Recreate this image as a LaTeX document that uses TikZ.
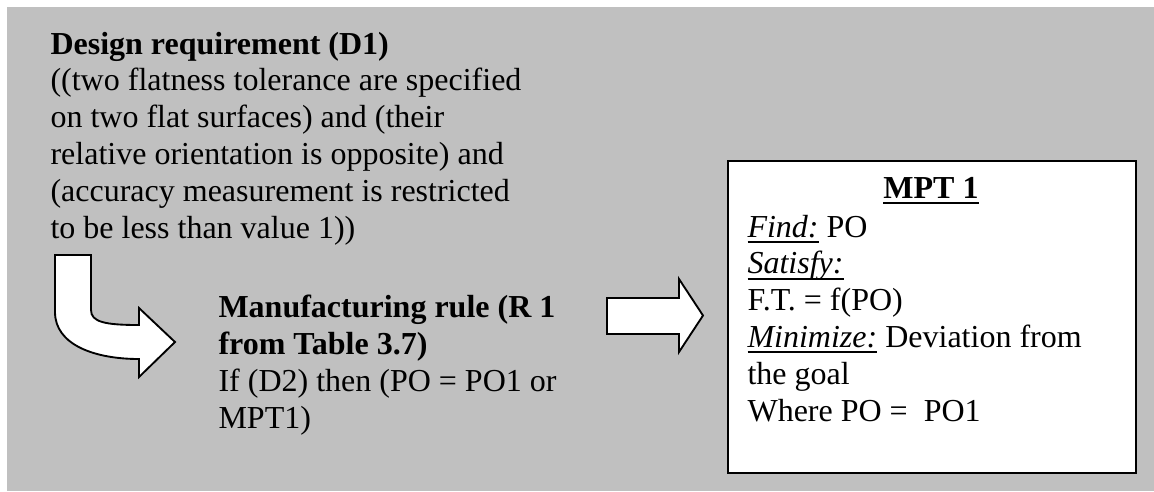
\documentclass[tikz,border=0pt]{standalone}
\usepackage{fontspec}
\setmainfont{Liberation Serif}
\usetikzlibrary{positioning}
\definecolor{panelgray}{HTML}{C0C0C0}
\newcommand{\mpul}[1]{\setbox0\hbox{#1}\rlap{\rule[-2.2pt]{\wd0}{0.7pt}}\box0\relax}

\begin{document}
\begin{tikzpicture}[
  x=0.375pt, y=-0.375pt,
  txt/.style={anchor=base west, align=left, inner sep=0pt,
              font=\fontsize{12}{13.8}\selectfont},
  mptbox/.style={rectangle, draw=black, fill=white, line width=0.8pt,
              anchor=north west, minimum width=153pt, minimum height=117pt},
  bigarr/.style={draw=black, fill=white, line width=0.7pt, line join=miter}
]
\useasboundingbox (0,0) rectangle (1154,491);
%% background panel
\fill[panelgray] (7,7) rectangle (1154,491);
%% design requirement (placed by its last baseline)
\node[txt] (dreq) at (50,238) {\textbf{Design requirement (D1)}\\
  ((two flatness tolerance are specified\\
  on two flat surfaces) and (their\\
  relative orientation is opposite) and\\
  (accuracy measurement is restricted\\
  to be less than value 1))};
%% manufacturing rule
\node[txt] (mrule) at (218,428) {\textbf{Manufacturing rule (R 1}\\
  \textbf{from Table 3.7)}\\
  If (D2) then (PO = PO1 or\\
  MPT1)};
%% MPT 1 box
\node[mptbox] (mpt) at (727,160) {};
\node[txt, anchor=base] (mpttitle) at (931,198) {\mpul{\textbf{MPT 1}}};
\node[txt] (mptbody) at (747,421) {\mpul{\textit{Find:}} PO\\
  \mpul{\textit{Satisfy:}}\\
  F.T. = f(PO)\\
  \mpul{\textit{Minimize:}} Deviation from\\
  the goal\\
  Where PO =~ PO1};
%% block arrows
\draw[bigarr] (55,255) -- (91,255) -- (91,310)
  .. controls (91,322) and (105,325) .. (139,325)
  -- (139,308) -- (175,342) -- (139,377) -- (139,359)
  .. controls (95,359) and (55,345) .. (55,312) -- cycle;
\draw[bigarr] (607,298) -- (679,298) -- (679,279) -- (703,315.5)
  -- (679,352) -- (679,334) -- (607,334) -- cycle;
\end{tikzpicture}
\end{document}
